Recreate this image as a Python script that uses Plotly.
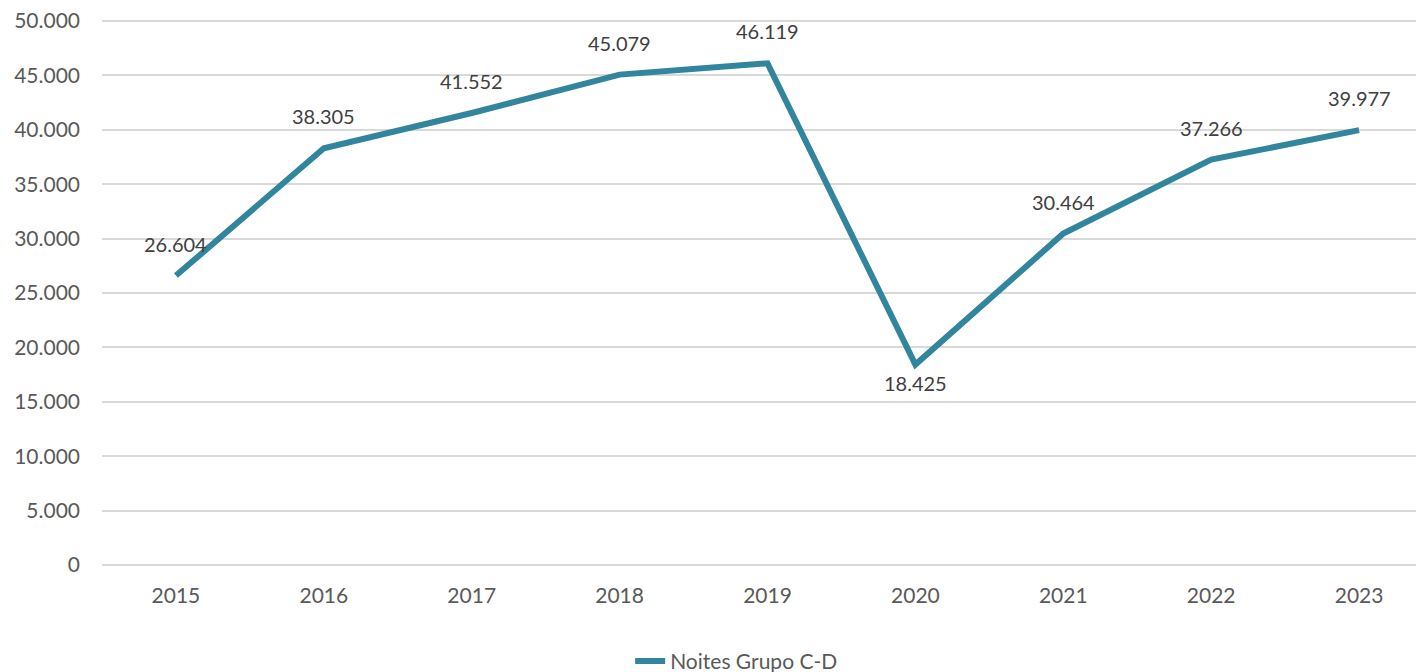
import plotly.graph_objects as go

years = ["2015", "2016", "2017", "2018", "2019", "2020", "2021", "2022", "2023"]
values = [26604, 38305, 41552, 45079, 46119, 18425, 30464, 37266, 39977]
label_below = [False, False, False, False, False, True, False, False, False]
series_name = "Noites Grupo C-D"
y_ticks = [0, 5000, 10000, 15000, 20000, 25000, 30000, 35000, 40000, 45000, 50000]

LINE = "#31859C"
FONT = "Lato, Open Sans, sans-serif"

fig = go.Figure()
fig.add_trace(go.Scatter(
    x=years, y=values, mode="lines", name=series_name,
    line=dict(color=LINE, width=6), showlegend=True,
))

for i, (v, below) in enumerate(zip(values, label_below)):
    fig.add_annotation(
        x=i, y=v, xref="x", yref="y", text=f"{v:,}".replace(",", "."), showarrow=False,
        yshift=-18 if below else 32,
        font=dict(family=FONT, size=20, color="#404040"),
    )

fig.update_layout(
    width=1416, height=672,
    margin=dict(l=102, r=0, t=20, b=107, autoexpand=False),
    paper_bgcolor="white", plot_bgcolor="white",
    separators=",.",
    font=dict(family=FONT, size=21, color="#595959"),
    showlegend=True,
    legend=dict(orientation="h", x=0.483, xanchor="center", y=-0.139, yanchor="top",
                font=dict(family=FONT, size=21, color="#595959")),
)
fig.update_xaxes(
    type="category", range=[-0.5, 8.385], showgrid=False, showline=False,
    ticks="", ticklabelstandoff=16, automargin=False,
    tickfont=dict(family=FONT, size=21, color="#595959"),
)
fig.update_yaxes(
    range=[0, 50100], tickvals=y_ticks, tickformat=",",
    showgrid=True, gridcolor="#D9D9D9", gridwidth=1.5,
    zeroline=True, zerolinecolor="#D9D9D9", zerolinewidth=1.5,
    showline=False, ticks="", ticklabelstandoff=21, automargin=False,
    tickfont=dict(family=FONT, size=21, color="#595959"),
)

fig.write_html("out.html", config={"displayModeBar": False},
               post_script="document.body.style.margin='0';")
